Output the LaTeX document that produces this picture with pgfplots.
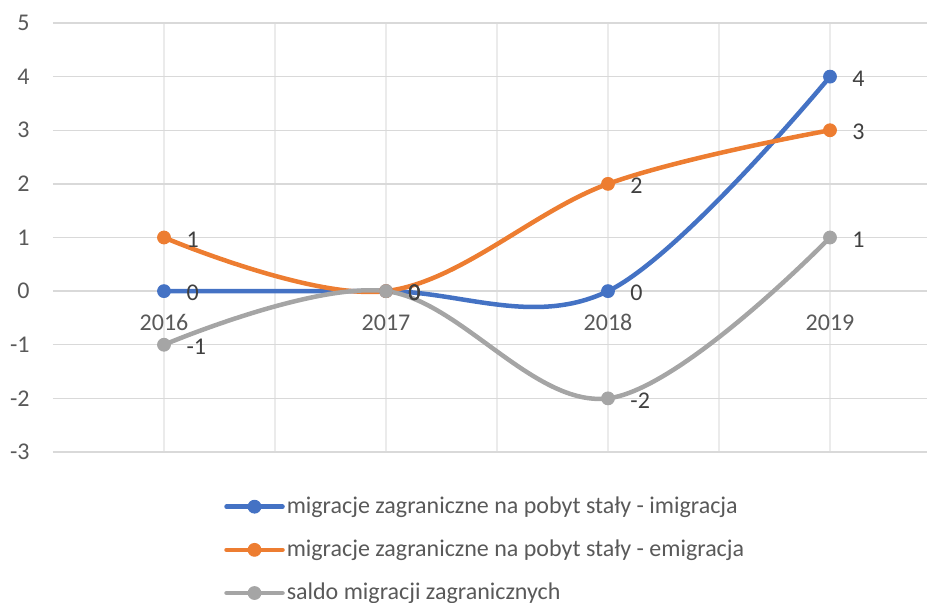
\documentclass[border=0pt]{standalone}
\usepackage{fontspec}
\setmainfont{Carlito}
\usepackage{pgfplots}
\pgfplotsset{compat=1.18}
\definecolor{cblue}{HTML}{4472C4}
\definecolor{corange}{HTML}{ED7D31}
\definecolor{cgray}{HTML}{A5A5A5}
\definecolor{gridh}{HTML}{D9D9D9}
\definecolor{gridv}{HTML}{EBEBEB}
\definecolor{ticktext}{HTML}{595959}
\definecolor{labeltext}{HTML}{404040}
\begin{document}
\begin{tikzpicture}
\begin{axis}[
  at={(26.5pt,75.5pt)}, anchor=south west,
  scale only axis, width=437pt, height=214.5pt,
  xmin=-0.5, xmax=3.437, ymin=-3, ymax=5,
  axis x line=middle, axis y line=left,
  axis line style={draw=none},
  major tick length=0pt, minor tick length=0pt,
  xtick={-0.5,0,0.5,1,1.5,2,2.5,3},
  xticklabels={,2016,,2017,,2018,,2019},
  ytick={-3,-2,-1,0,1,2,3,4,5},
  yticklabels={-3,-2,-1,0,1,2,3,4,5},
  xmajorgrids, ymajorgrids,
  x grid style={gridv, line width=0.75pt},
  y grid style={gridh, line width=0.75pt},
  tick label style={font=\fontsize{12}{14}\selectfont, text=ticktext},
  xticklabel style={anchor=base, inner sep=0pt, yshift=-19.5pt},
  yticklabel style={anchor=east, inner sep=0pt, xshift=-11.5pt},
  every axis plot/.append style={line width=2.25pt, smooth, tension=0.6, line join=round, line cap=round,
    mark=*, mark size=3.2pt},
  nodes near coords, point meta=explicit symbolic,
  every node near coord/.append style={anchor=west, inner sep=0pt, xshift=11pt, yshift=-1pt,
    font=\fontsize{12}{14}\selectfont, text=labeltext},
  legend style={draw=none, fill=none, at={(axis description cs:0.1955,-0.099)}, anchor=north west,
    font=\fontsize{12}{14}\selectfont, text=ticktext, row sep=9.75pt, inner sep=0pt,
    nodes={inner xsep=1pt, inner ysep=1pt}},
  legend cell align=left,
  legend image code/.code={\draw[mark repeat=2, mark phase=2, #1] plot coordinates {(0pt,0pt) (14pt,0pt) (28pt,0pt)};},
]
\addplot[cblue, mark options={solid, fill=cblue, draw=cblue, line width=0.5pt}]
  coordinates {(0,0)[0] (1,0)[0] (2,0)[0] (3,4)[4]};
\addlegendentry{migracje zagraniczne na pobyt stały - imigracja}
\addplot[corange, mark options={solid, fill=corange, draw=corange, line width=0.5pt}]
  coordinates {(0,1)[1] (1,0)[0] (2,2)[2] (3,3)[3]};
\addlegendentry{migracje zagraniczne na pobyt stały - emigracja}
\addplot[cgray, mark options={solid, fill=cgray, draw=cgray, line width=0.5pt}]
  coordinates {(0,-1)[-1] (1,0)[0] (2,-2)[-2] (3,1)[1]};
\addlegendentry{saldo migracji zagranicznych}
\end{axis}
\pgfresetboundingbox
\path[use as bounding box] (0,0) rectangle (463.5pt,301.5pt);
\end{tikzpicture}
\end{document}
